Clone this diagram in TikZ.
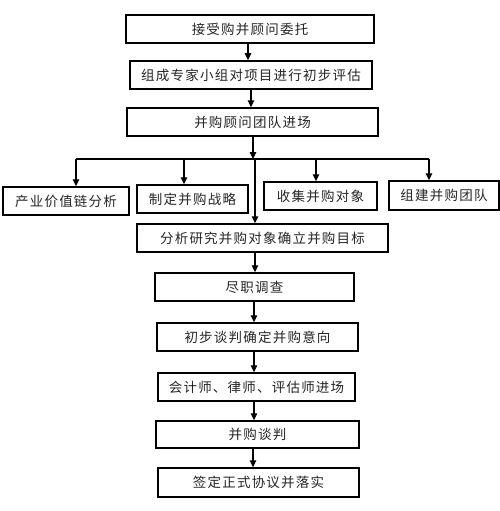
\documentclass[tikz,border=0pt]{standalone}
\usepackage{fontspec}
\newfontfamily\cjk[LetterSpace=9]{Noto Sans CJK SC}
\usetikzlibrary{arrows.meta}
\begin{document}
\begin{tikzpicture}[x=1pt,y=-1pt,
  box/.style={draw=black, line width=1.5pt, inner sep=0pt, minimum height=28pt,
              font=\cjk\fontsize{13.5}{15}\selectfont, text=black!85},
  arr/.style={line width=1.4pt, -{Triangle[length=7pt,width=6.5pt]}},
  ln/.style={line width=1.4pt}]
\fill[white] (0,0) rectangle (500,511);
\useasboundingbox (0,0) rectangle (500,511);
% main column
\node[box,minimum width=248pt] (b1) at (250,29) {接受购并顾问委托};
\node[box,minimum width=242pt] (b2) at (251,75) {组成专家小组对项目进行初步评估};
\node[box,minimum width=251pt] (b3) at (252.5,122) {并购顾问团队进场};
% branch boxes
\node[box,minimum width=126pt] (A) at (66,201) {产业价值链分析};
\node[box,minimum width=111pt] (B) at (192.5,199) {制定并购战略};
\node[box,minimum width=113pt] (C) at (320.5,196) {收集并购对象};
\node[box,minimum width=110pt,minimum height=29pt] (D) at (444,195.5) {组建并购团队};
% lower column
\node[box,minimum width=251pt] (E) at (262.5,238) {分析研究并购对象确立并购目标};
\node[box,minimum width=199pt] (F) at (254.5,287) {尽职调查};
\node[box,minimum width=201pt] (G) at (257.5,337) {初步谈判确定并购意向};
\node[box,minimum width=197pt] (H) at (256.5,387) {会计师、律师、评估师进场};
\node[box,minimum width=203pt,minimum height=27pt] (I) at (257.5,434.5) {并购谈判};
\node[box,minimum width=201pt,minimum height=29pt] (J) at (258.5,482.5) {签定正式协议并落实};
% bus coordinates
\coordinate (busL) at (76,159);
\coordinate (busB) at (184,159);
\coordinate (busIn) at (253,159);
\coordinate (busM) at (255,159);
\coordinate (busC) at (316,159);
\coordinate (busR) at (429,159);
% connectors
\draw[arr] (b1.south -| 248,0) -- (b2.north -| 248,0);
\draw[arr] (b2.south) -- (b2.south |- b3.north);
\draw[arr] (b3.south -| busIn) -- (busIn);
\draw[ln] (busL) -- (busR);
\draw[arr] (busL) -- (busL |- A.north);
\draw[arr] (busB) -- (busB |- B.north);
\draw[arr] (busC) -- (busC |- C.north);
\draw[arr] (busR) -- (busR |- D.north);
\draw[arr] (busM) -- (busM |- E.north);
\draw[arr] (E.south -| busM) -- (F.north -| busM);
\draw[arr] (F.south -| 254,0) -- (G.north -| 254,0);
\draw[arr] (G.south -| 254,0) -- (H.north -| 254,0);
\draw[arr] (H.south -| 254,0) -- (I.north -| 254,0);
\draw[arr] (I.south -| 253,0) -- (J.north -| 253,0);
\end{tikzpicture}
\end{document}
